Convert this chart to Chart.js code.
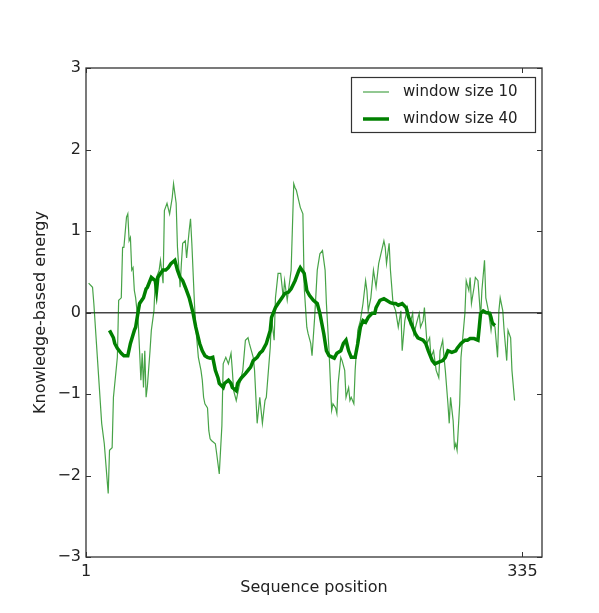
<!DOCTYPE html>
<html>
<head>
<meta charset="utf-8">
<script src="https://cdn.jsdelivr.net/npm/chart.js@4.4.1/dist/chart.umd.min.js"></script>
<style>
  html, body { margin: 0; padding: 0; background: #fff; }
  #wrap { width: 599px; height: 613px; }
</style>
</head>
<body>
<div id="wrap"><canvas id="energyChart" width="599" height="613"></canvas></div>
<script>
// window size 10 profile (sequence position, energy)
const win10Pos = [3, 6, 7, 9, 11, 13, 15, 17, 18, 19, 21, 22, 25, 26, 28, 29, 30, 32, 33, 34,
  35, 36, 37, 38, 39, 41, 42, 43, 44, 45, 46, 47, 48, 50, 51, 53, 54, 57, 58, 60,
  61, 63, 65, 67, 68, 70, 71, 73, 74, 75, 77, 78, 80, 81, 82, 84, 85, 87, 89, 90,
  91, 92, 94, 95, 96, 97, 100, 101, 103, 105, 106, 108, 110, 112, 113, 114, 116, 118, 121, 123,
  125, 126, 129, 130, 132, 134, 136, 138, 139, 142, 143, 145, 146, 148, 150, 152, 153, 155, 158, 160,
  161, 162, 165, 167, 168, 170, 171, 173, 174, 176, 178, 180, 182, 184, 185, 187, 189, 190, 192, 193,
  194, 196, 197, 199, 200, 202, 203, 204, 206, 207, 209, 211, 213, 215, 216, 217, 219, 221, 223, 225,
  226, 229, 230, 231, 233, 234, 236, 238, 240, 242, 243, 245, 247, 249, 251, 252, 254, 256, 257, 259,
  260, 262, 264, 265, 267, 269, 271, 272, 274, 275, 276, 278, 279, 280, 282, 283, 284, 285, 287, 288,
  291, 292, 294, 295, 296, 298, 299, 301, 303, 304, 306, 307, 309, 311, 312, 314, 316, 317, 318, 320,
  321, 323, 324, 326, 327, 329];
const win10Energy = [0.36, 0.31, 0.11, -0.38, -0.87, -1.36, -1.61, -2.02, -2.22, -1.69, -1.66, -1.04, -0.55, 0.15, 0.18, 0.80, 0.80, 1.17, 1.21, 0.88,
  0.92, 0.52, 0.55, 0.27, 0.18, -0.13, -0.47, -0.83, -0.50, -0.92, -0.47, -1.04, -0.90, -0.47, -0.22, 0.02, 0.39, 0.52, 0.64, 0.36,
  1.25, 1.34, 1.21, 1.41, 1.58, 1.34, 0.80, 0.31, 0.60, 0.85, 0.88, 0.67, 1.01, 1.15, 0.85, 0.11, -0.18, -0.55, -0.71, -0.83,
  -1.04, -1.12, -1.17, -1.45, -1.55, -1.57, -1.61, -1.73, -1.98, -1.39, -0.63, -0.55, -0.63, -0.50, -0.71, -0.96, -1.08, -0.92, -0.71, -0.34,
  -0.31, -0.38, -0.55, -0.71, -1.36, -1.04, -1.36, -1.08, -1.04, -0.43, -0.06, -0.34, 0.18, 0.48, 0.48, 0.18, 0.39, 0.15, 0.52, 1.58,
  1.53, 1.50, 1.29, 1.21, 0.31, -0.18, -0.26, -0.38, -0.53, -0.06, 0.52, 0.72, 0.76, 0.52, 0.11, -0.47, -1.20, -1.12, -1.17, -1.24,
  -0.87, -0.55, -0.59, -0.71, -1.04, -0.92, -1.08, -1.04, -1.12, -0.71, -0.22, -0.10, 0.11, 0.39, 0.27, 0.02, 0.18, 0.52, 0.31, 0.60,
  0.67, 0.88, 0.80, 0.60, 0.85, 0.52, 0.11, 0.02, -0.18, 0.02, -0.47, -0.10, 0.06, -0.13, -0.01, -0.26, -0.13, -0.01, -0.18, -0.10,
  0.06, -0.38, -0.31, -0.55, -0.47, -0.71, -0.80, -0.47, -0.34, -0.55, -0.71, -1.12, -1.36, -1.04, -1.33, -1.66, -1.61, -1.69, -1.12, -0.55,
  -0.01, 0.39, 0.27, 0.43, 0.11, 0.31, 0.43, 0.39, -0.06, 0.27, 0.64, 0.18, 0.02, -0.22, -0.10, -0.18, -0.55, 0.02, 0.18, 0.02,
  -0.22, -0.59, -0.22, -0.31, -0.71, -1.08];

// window size 40 profile
const win40Pos = [19, 22, 23, 25, 28, 30, 33, 35, 38, 39, 41, 42, 45, 47, 48, 51, 54, 55, 56, 58,
  60, 62, 64, 66, 69, 71, 73, 75, 77, 80, 83, 85, 88, 90, 92, 94, 96, 98, 100, 102,
  103, 106, 107, 110, 112, 113, 116, 117, 120, 123, 125, 127, 129, 132, 134, 136, 139, 142, 143, 146,
  148, 151, 153, 156, 158, 161, 164, 165, 168, 170, 172, 175, 178, 180, 183, 185, 187, 191, 193, 196,
  198, 200, 202, 204, 207, 209, 211, 213, 215, 217, 220, 222, 223, 226, 229, 231, 234, 236, 238, 240,
  243, 246, 248, 251, 253, 255, 259, 261, 263, 266, 268, 271, 274, 276, 278, 281, 284, 285, 288, 291,
  293, 295, 298, 301, 302, 303, 305, 307, 310, 311, 312, 314];
const win40Energy = [-0.22, -0.31, -0.38, -0.44, -0.50, -0.53, -0.53, -0.38, -0.22, -0.18, 0.02, 0.11, 0.18, 0.29, 0.31, 0.43, 0.39, 0.27, 0.43, 0.48,
  0.52, 0.52, 0.55, 0.60, 0.64, 0.52, 0.43, 0.39, 0.31, 0.18, -0.01, -0.18, -0.38, -0.47, -0.53, -0.55, -0.56, -0.55, -0.71, -0.80,
  -0.87, -0.92, -0.87, -0.83, -0.87, -0.92, -0.96, -0.87, -0.80, -0.75, -0.71, -0.67, -0.59, -0.55, -0.50, -0.47, -0.38, -0.22, -0.06, 0.06,
  0.11, 0.18, 0.23, 0.25, 0.29, 0.39, 0.52, 0.55, 0.48, 0.27, 0.21, 0.15, 0.11, -0.01, -0.26, -0.47, -0.53, -0.56, -0.50, -0.47,
  -0.38, -0.34, -0.47, -0.55, -0.55, -0.38, -0.18, -0.10, -0.12, -0.06, -0.01, -0.01, 0.06, 0.15, 0.17, 0.15, 0.12, 0.11, 0.11, 0.09,
  0.11, 0.06, -0.06, -0.18, -0.26, -0.31, -0.34, -0.38, -0.47, -0.59, -0.63, -0.61, -0.59, -0.55, -0.47, -0.49, -0.47, -0.44, -0.38, -0.34,
  -0.34, -0.32, -0.32, -0.34, -0.18, -0.01, 0.02, 0.00, -0.01, -0.06, -0.13, -0.16];

const seriesLabels = ['window size 10', 'window size 40'];
const xTicks = [1, 335];
const yTicks = [-3, -2, -1, 0, 1, 2, 3];
const xRange = [1, 350];

const FONT = 'DejaVu Sans';
const thinColor = 'rgba(0,128,0,0.72)';
const thickColor = '#008000';

// frame, inward tick marks and the boxed legend
const framePlugin = {
  id: 'frame',
  afterDraw(chart) {
    const ctx = chart.ctx;
    const a = chart.chartArea;
    const xs = chart.scales.x, ys = chart.scales.y;
    ctx.save();
    ctx.strokeStyle = '#333';
    ctx.lineWidth = 1.3;
    ctx.strokeRect(a.left, a.top, a.right - a.left, a.bottom - a.top);
    ctx.lineWidth = 1;
    ctx.beginPath();
    yTicks.forEach(v => {
      const py = Math.round(ys.getPixelForValue(v)) + 0.5;
      ctx.moveTo(a.left, py); ctx.lineTo(a.left + 5, py);
      ctx.moveTo(a.right, py); ctx.lineTo(a.right - 5, py);
    });
    xTicks.forEach(v => {
      const px = Math.round(xs.getPixelForValue(v)) + 0.5;
      ctx.moveTo(px, a.bottom); ctx.lineTo(px, a.bottom - 5);
      ctx.moveTo(px, a.top); ctx.lineTo(px, a.top + 5);
    });
    ctx.stroke();

    // legend
    const bx = a.right - 191, by = a.top + 9, bw = 184, bh = 55;
    ctx.fillStyle = '#fff';
    ctx.fillRect(bx, by, bw, bh);
    ctx.strokeStyle = '#333';
    ctx.lineWidth = 1.2;
    ctx.strokeRect(bx + 0.5, by + 0.5, bw, bh);
    ctx.font = '15px "' + FONT + '"';
    ctx.textBaseline = 'middle';
    ctx.fillStyle = '#222';
    chart.data.datasets.forEach((ds, i) => {
      const ly = by + 15 + i * 27;
      ctx.strokeStyle = ds.borderColor;
      ctx.lineWidth = ds.borderWidth;
      ctx.beginPath();
      ctx.moveTo(bx + 12, ly); ctx.lineTo(bx + 38, ly);
      ctx.stroke();
      ctx.fillText(ds.label, bx + 52, ly);
    });
    ctx.restore();
  }
};

const toPoints = (xs, ys) => xs.map((x, i) => ({ x: x, y: ys[i] }));

new Chart(document.getElementById('energyChart').getContext('2d'), {
  type: 'line',
  data: {
    datasets: [
      { label: seriesLabels[0], data: toPoints(win10Pos, win10Energy), borderColor: thinColor, borderWidth: 1.2, pointRadius: 0, tension: 0 },
      { label: seriesLabels[1], data: toPoints(win40Pos, win40Energy), borderColor: thickColor, borderWidth: 3.5, pointRadius: 0, tension: 0 }
    ]
  },
  options: {
    responsive: false,
    animation: false,
    layout: { padding: { top: 68, right: 57, left: 0, bottom: 0 } },
    plugins: { legend: { display: false }, tooltip: { enabled: false } },
    scales: {
      x: {
        type: 'linear', min: xRange[0], max: xRange[1],
        afterBuildTicks: s => { s.ticks = xTicks.map(v => ({ value: v })); },
        afterFit: s => { s.height = 56; },
        grid: { display: false },
        border: { display: false },
        ticks: { font: { family: FONT, size: 16 }, color: '#222', padding: -3, maxRotation: 0, autoSkip: false },
        title: { display: true, text: 'Sequence position', font: { family: FONT, size: 16 }, color: '#222', padding: { top: 0, bottom: 16 } }
      },
      y: {
        min: -3, max: 3,
        afterBuildTicks: s => { s.ticks = yTicks.map(v => ({ value: v })); },
        afterFit: s => { s.width = 86; },
        grid: { drawTicks: false, lineWidth: 1.5, color: c => (c.tick && c.tick.value === 0) ? '#444' : 'rgba(0,0,0,0)' },
        border: { display: false },
        ticks: { font: { family: FONT, size: 16 }, color: '#222', padding: 5, callback: v => v < 0 ? '\u2212' + Math.abs(v) : String(v) },
        title: { display: true, text: 'Knowledge-based energy', font: { family: FONT, size: 16 }, color: '#222', padding: { top: 31, bottom: 0 } }
      }
    }
  },
  plugins: [framePlugin]
});
</script>
</body>
</html>
